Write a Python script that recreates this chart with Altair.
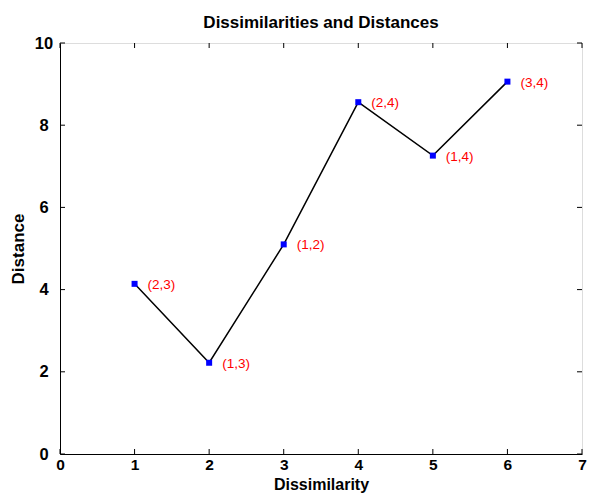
import altair as alt
import pandas as pd

dissimilarity = [1, 2, 3, 4, 5, 6]
distance = [4.14, 2.22, 5.10, 8.56, 7.26, 9.06]
pair_labels = ["(2,3)", "(1,3)", "(1,2)", "(2,4)", "(1,4)", "(3,4)"]
x_ticks = [0, 1, 2, 3, 4, 5, 6, 7]
y_ticks = [0, 2, 4, 6, 8, 10]

W, H = 522, 411
FONT = "Liberation Sans"

df = pd.DataFrame({"x": dissimilarity, "y": distance, "label": pair_labels})
xt = pd.DataFrame({"v": x_ticks})
yt = pd.DataFrame({"v": y_ticks})

xscale = alt.Scale(domain=[0, 7], nice=False, zero=False)
yscale = alt.Scale(domain=[0, 10], nice=False, zero=False)

xaxis = alt.Axis(values=x_ticks, ticks=False, tickSize=0, grid=False, labelPadding=3,
                 labelFontSize=15.5, labelFontWeight="bold", labelColor="black",
                 labelFont=FONT, title="Dissimilarity", titleFont=FONT, titleFontSize=16,
                 titleFontWeight="bold", titleColor="black",
                 titleY=35.5, titleBaseline="alphabetic",
                 domainColor="black", labelFlush=False, format="d")
yaxis = alt.Axis(values=y_ticks, ticks=False, tickSize=0, grid=False, labelPadding=16.5,
                 labelAlign="center", labelBaseline="middle",
                 labelFontSize=16.5, labelFontWeight="bold", labelColor="black",
                 labelFont=FONT, title="Distance", titleFont=FONT, titleFontSize=17,
                 titleFontWeight="bold", titleColor="black", titlePadding=7,
                 domainColor="black", labelFlush=False, format="d")

line = alt.Chart(df).mark_line(color="black", strokeWidth=1.5).encode(
    x=alt.X("x:Q", scale=xscale, axis=xaxis),
    y=alt.Y("y:Q", scale=yscale, axis=yaxis),
)
pts = alt.Chart(df).mark_square(size=36, color="#0000ff", opacity=1).encode(
    x=alt.X("x:Q", scale=xscale),
    y=alt.Y("y:Q", scale=yscale),
)
txt = alt.Chart(df).mark_text(align="left", baseline="middle", dx=13, dy=1,
                              color="#ff0000", fontSize=13.5, font=FONT).encode(
    x=alt.X("x:Q", scale=xscale),
    y=alt.Y("y:Q", scale=yscale),
    text="label:N",
)

tick_bottom = alt.Chart(xt).mark_rule(color="black", strokeWidth=1).encode(
    x=alt.X("v:Q", scale=xscale), y=alt.value(H), y2=alt.value(H - 5))
tick_top = alt.Chart(xt).mark_rule(color="black", strokeWidth=1).encode(
    x=alt.X("v:Q", scale=xscale), y=alt.value(0), y2=alt.value(5))
tick_left = alt.Chart(yt).mark_rule(color="black", strokeWidth=1).encode(
    y=alt.Y("v:Q", scale=yscale), x=alt.value(0), x2=alt.value(5))
tick_right = alt.Chart(yt).mark_rule(color="black", strokeWidth=1).encode(
    y=alt.Y("v:Q", scale=yscale), x=alt.value(W), x2=alt.value(W - 5))

chart = alt.layer(line, tick_bottom, tick_top, tick_left, tick_right, pts, txt).properties(
    width=W, height=H,
    title=alt.TitleParams("Dissimilarities and Distances", font=FONT, fontSize=17,
                          fontWeight="bold", color="black", offset=3, anchor="middle"),
    autosize=alt.AutoSizeParams(type="none"),
    padding={"left": 52, "top": 35, "right": 5, "bottom": 39},
).configure_view(stroke="black", strokeWidth=1).configure(background="white")

chart.save("out.html", embed_options={"renderer": "svg", "actions": False})
